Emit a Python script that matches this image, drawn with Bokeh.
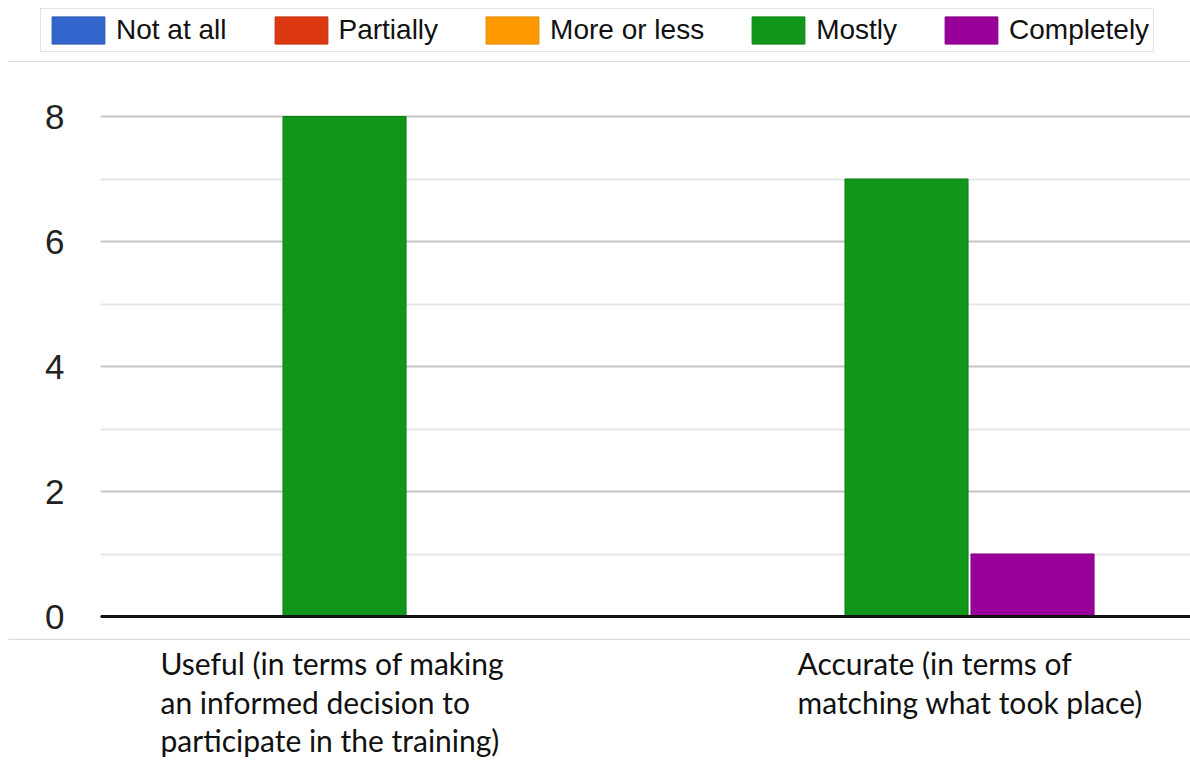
from bokeh.plotting import figure
from bokeh.layouts import column
from bokeh.models import (ColumnDataSource, Range1d, FixedTicker, Span, Label,
                          BoxAnnotation)
from bokeh.transform import dodge
from bokeh.embed import file_html
from bokeh.resources import INLINE

# Survey answers per statement
categories = [
    "Useful (in terms of making\nan informed decision to\nparticipate in the training)",
    "Accurate (in terms of\nmatching what took place)",
]
series = ["Not at all", "Partially", "More or less", "Mostly", "Completely"]
not_at_all = [0, 0]
partially = [0, 0]
more_or_less = [0, 0]
mostly = [8, 7]
completely = [0, 1]
y_ticks = [0, 2, 4, 6, 8]
y_minor = [1, 3, 5, 7]

colors = ["#3366cc", "#dc3912", "#ff9900", "#109618", "#990099"]
edges = ["#2a57b0", "#c0300f", "#e08800", "#0c8012", "#880088"]

pos = list(range(len(categories)))
src = ColumnDataSource(dict(
    pos=pos,
    not_at_all=not_at_all,
    partially=partially,
    more_or_less=more_or_less,
    mostly=mostly,
    completely=completely,
))
cols = ["not_at_all", "partially", "more_or_less", "mostly", "completely"]

W = 1190
AXIS_W = 100          # room for the value axis
PX_PER_CAT = 562.0    # horizontal distance between the two statements
slot = 0.2242
bar_w = 0.219
x0, x1 = -0.21, 1.7295
y0, y1 = -0.352, 8.864
HEAD_H, MAIN_H, FOOT_H = 62, 576, 124
PX_PER_UNIT = 62.5


def strip(height, xr, yr):
    f = figure(width=W, height=height, output_backend="svg",
               toolbar_location=None, x_range=xr, y_range=yr,
               x_axis_location=None, y_axis_location=None,
               min_border=0, min_border_left=0, min_border_right=0,
               min_border_top=0, min_border_bottom=0)
    f.frame_align = False
    f.outline_line_color = None
    f.grid.visible = False
    return f


def rule(at_top, height):
    lo = height - 1.5 if at_top else 0
    return BoxAnnotation(left=8, right=W, bottom=lo, top=lo + 1.5,
                         left_units="screen", right_units="screen",
                         bottom_units="screen", top_units="screen",
                         fill_color="#dcdcdc", fill_alpha=1, line_color=None)


# ---- header strip holding the legend ----
head = strip(HEAD_H, Range1d(x0, x1), Range1d(100, 110))
for j, (col, name) in enumerate(zip(cols, series)):
    head.vbar(x=dodge("pos", (j - 2) * slot, range=head.x_range), top=col,
              bottom=0, width=bar_w, source=src, fill_color=colors[j],
              line_color=edges[j], line_width=1, legend_label=name)
head.add_layout(rule(False, HEAD_H))
lg = head.legend[0]
lg.orientation = "horizontal"
lg.location = (40, 10)
lg.border_line_color = "#c8c8c8"
lg.border_line_width = 1
lg.background_fill_color = "white"
lg.background_fill_alpha = 1
lg.padding = 4
lg.margin = 0
lg.spacing = 41
lg.label_standoff = 5
lg.glyph_width = 66
lg.glyph_height = 34
lg.label_text_font = "Liberation Sans"
lg.label_text_font_size = "28px"
lg.label_text_color = "#111111"

# ---- main chart ----
p = figure(width=W, height=MAIN_H, output_backend="svg", toolbar_location=None,
           x_range=Range1d(x0, x1), y_range=Range1d(y0, y1),
           x_axis_location=None, y_axis_location="left",
           min_border_left=AXIS_W, min_border_right=0,
           min_border_top=0, min_border_bottom=0)
p.frame_align = False
p.outline_line_color = None

for j, (col, name) in enumerate(zip(cols, series)):
    p.vbar(x=dodge("pos", (j - 2) * slot, range=p.x_range), top=col,
           bottom=0, width=bar_w, source=src, fill_color=colors[j],
           line_color=edges[j], line_width=1)

yax = p.yaxis[0]
yax.ticker = FixedTicker(ticks=y_ticks)
yax.axis_line_color = None
yax.major_tick_line_color = None
yax.minor_tick_line_color = None
yax.major_label_text_font = "Liberation Sans"
yax.major_label_text_font_size = "35px"
yax.major_label_text_color = "#222222"
yax.major_label_standoff = 30

p.ygrid.ticker = FixedTicker(ticks=y_ticks, minor_ticks=y_minor)
p.ygrid.grid_line_color = "#c4c4c4"
p.ygrid.grid_line_width = 2
p.ygrid.minor_grid_line_color = "#e6e6e6"
p.ygrid.minor_grid_line_width = 2
p.xgrid.visible = False

p.add_layout(Span(location=0, dimension="width", line_color="#111111",
                  line_width=3))

# ---- footer strip with the statement labels ----
foot = strip(FOOT_H, Range1d(x0 - AXIS_W / PX_PER_CAT, x1),
             Range1d(y0 - FOOT_H / PX_PER_UNIT, y0))
foot.add_layout(rule(True, FOOT_H))
label_shift = [-0.1032, 0.0302]
for c, s, txt in zip(pos, label_shift, categories):
    foot.add_layout(Label(x=c + s, y=-0.46, text=txt,
                          text_font="Lato", text_font_size="30px",
                          text_color="#111111", text_align="left",
                          text_baseline="top", text_line_height=1.07))

layout = column(head, p, foot, spacing=0)
open("out.html", "w").write(file_html(layout, INLINE))
